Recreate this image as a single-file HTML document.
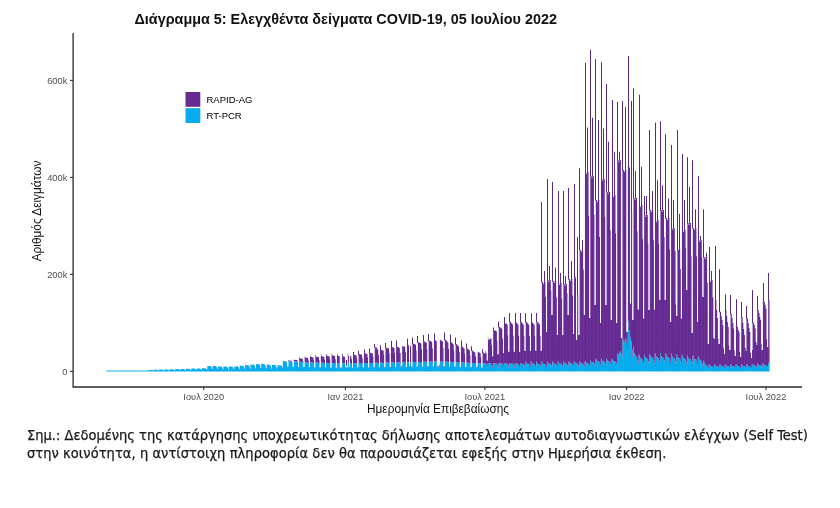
<!DOCTYPE html>
<html lang="el"><head><meta charset="utf-8"><title>Διάγραμμα 5</title>
<style>
html,body{margin:0;padding:0;background:#fff}
body{width:840px;height:508px;position:relative;overflow:hidden;font-family:"Liberation Sans",sans-serif}
svg text{font-family:"Liberation Sans",sans-serif}
.tk{font-size:9.3px;fill:#4d4d4d}
.lg{font-size:9.5px;fill:#000}
.at{font-size:11.85px;fill:#111}
.tt{font-size:14.38px;font-weight:bold;fill:#111}
.note{position:absolute;left:27px;top:425.5px;margin:0;font-family:"DejaVu Sans Condensed","Liberation Sans",sans-serif;font-size:14.5px;line-height:18.5px;color:#1a1a1a;white-space:nowrap;-webkit-text-stroke:0.25px #1a1a1a}
</style></head><body>
<svg width="840" height="508" viewBox="0 0 840 508" style="position:absolute;left:0;top:0"><path d="M106.42 370.6h0.755V371.4h-0.755zM107.19 370.6h0.755V371.4h-0.755zM107.96 370.6h0.755V371.4h-0.755zM108.73 370.6h0.755V371.4h-0.755zM109.50 370.6h0.755V371.4h-0.755zM110.27 370.6h0.755V371.4h-0.755zM111.04 370.6h0.755V371.4h-0.755zM111.81 370.6h0.755V371.4h-0.755zM112.58 370.6h0.755V371.4h-0.755zM113.35 370.6h0.755V371.4h-0.755zM114.12 370.6h0.755V371.4h-0.755zM114.89 370.6h0.755V371.4h-0.755zM115.67 370.6h0.755V371.4h-0.755zM116.44 370.6h0.755V371.4h-0.755zM117.21 370.6h0.755V371.4h-0.755zM117.98 370.6h0.755V371.4h-0.755zM118.75 370.6h0.755V371.4h-0.755zM119.52 370.6h0.755V371.4h-0.755zM120.29 370.6h0.755V371.4h-0.755zM121.06 370.6h0.755V371.4h-0.755zM121.83 370.6h0.755V371.4h-0.755zM122.60 370.6h0.755V371.4h-0.755zM123.37 370.6h0.755V371.4h-0.755zM124.14 370.6h0.755V371.4h-0.755zM124.91 370.6h0.755V371.4h-0.755zM125.68 370.6h0.755V371.4h-0.755zM126.45 370.6h0.755V371.4h-0.755zM127.22 370.6h0.755V371.4h-0.755zM127.99 370.6h0.755V371.4h-0.755zM128.76 370.6h0.755V371.4h-0.755zM129.53 370.6h0.755V371.4h-0.755zM130.30 370.6h0.755V371.4h-0.755zM131.07 370.6h0.755V371.4h-0.755zM131.84 370.6h0.755V371.4h-0.755zM132.61 370.6h0.755V371.4h-0.755zM133.38 370.6h0.755V371.4h-0.755zM134.15 370.6h0.755V371.4h-0.755zM134.92 370.6h0.755V371.4h-0.755zM135.69 370.6h0.755V371.4h-0.755zM136.46 370.6h0.755V371.4h-0.755zM137.23 370.6h0.755V371.4h-0.755zM138.00 370.6h0.755V371.4h-0.755zM138.77 370.6h0.755V371.4h-0.755zM139.54 370.6h0.755V371.4h-0.755zM140.31 370.6h0.755V371.4h-0.755zM141.08 370.6h0.755V371.4h-0.755zM141.85 370.6h0.755V371.4h-0.755zM142.62 370.6h0.755V371.4h-0.755zM143.39 370.6h0.755V371.4h-0.755zM144.16 370.6h0.755V371.4h-0.755zM144.93 370.6h0.755V371.4h-0.755zM145.70 370.6h0.755V371.4h-0.755zM146.47 370.6h0.755V371.4h-0.755zM147.24 370.6h0.755V371.4h-0.755zM148.01 370.3h0.755V371.4h-0.755zM148.78 370.2h0.755V371.4h-0.755zM149.55 369.9h0.755V371.4h-0.755zM150.32 369.9h0.755V371.4h-0.755zM151.09 369.9h0.755V371.4h-0.755zM151.86 370.1h0.755V371.4h-0.755zM152.63 370.6h0.755V371.4h-0.755zM153.40 369.7h0.755V371.4h-0.755zM154.18 369.8h0.755V371.4h-0.755zM154.95 369.8h0.755V371.4h-0.755zM155.72 369.7h0.755V371.4h-0.755zM156.49 369.7h0.755V371.4h-0.755zM157.26 370.0h0.755V371.4h-0.755zM158.03 370.6h0.755V371.4h-0.755zM158.80 369.6h0.755V371.4h-0.755zM159.57 369.6h0.755V371.4h-0.755zM160.34 369.6h0.755V371.4h-0.755zM161.11 369.6h0.755V371.4h-0.755zM161.88 369.6h0.755V371.4h-0.755zM162.65 369.9h0.755V371.4h-0.755zM163.42 370.5h0.755V371.4h-0.755zM164.19 369.4h0.755V371.4h-0.755zM164.96 369.5h0.755V371.4h-0.755zM165.73 369.4h0.755V371.4h-0.755zM166.50 369.4h0.755V371.4h-0.755zM167.27 369.4h0.755V371.4h-0.755zM168.04 369.8h0.755V371.4h-0.755zM168.81 370.5h0.755V371.4h-0.755zM169.58 369.3h0.755V371.4h-0.755zM170.35 369.3h0.755V371.4h-0.755zM171.12 369.3h0.755V371.4h-0.755zM171.89 369.3h0.755V371.4h-0.755zM172.66 369.3h0.755V371.4h-0.755zM173.43 369.7h0.755V371.4h-0.755zM174.20 370.4h0.755V371.4h-0.755zM174.97 369.1h0.755V371.4h-0.755zM175.74 369.2h0.755V371.4h-0.755zM176.51 369.1h0.755V371.4h-0.755zM177.28 369.1h0.755V371.4h-0.755zM178.05 369.1h0.755V371.4h-0.755zM178.82 369.5h0.755V371.4h-0.755zM179.59 370.3h0.755V371.4h-0.755zM180.36 368.9h0.755V371.4h-0.755zM181.13 369.0h0.755V371.4h-0.755zM181.90 369.0h0.755V371.4h-0.755zM182.67 368.9h0.755V371.4h-0.755zM183.44 369.0h0.755V371.4h-0.755zM184.21 369.4h0.755V371.4h-0.755zM184.98 370.2h0.755V371.4h-0.755zM185.75 368.7h0.755V371.4h-0.755zM186.52 368.8h0.755V371.4h-0.755zM187.29 368.8h0.755V371.4h-0.755zM188.06 368.8h0.755V371.4h-0.755zM188.83 368.8h0.755V371.4h-0.755zM189.60 369.3h0.755V371.4h-0.755zM190.37 370.2h0.755V371.4h-0.755zM191.14 368.6h0.755V371.4h-0.755zM191.91 368.6h0.755V371.4h-0.755zM192.69 368.6h0.755V371.4h-0.755zM193.46 368.6h0.755V371.4h-0.755zM194.23 368.6h0.755V371.4h-0.755zM195.00 369.1h0.755V371.4h-0.755zM195.77 370.1h0.755V371.4h-0.755zM196.54 368.4h0.755V371.4h-0.755zM197.31 368.5h0.755V371.4h-0.755zM198.08 368.4h0.755V371.4h-0.755zM198.85 368.4h0.755V371.4h-0.755zM199.62 368.5h0.755V371.4h-0.755zM200.39 369.0h0.755V371.4h-0.755zM201.16 370.0h0.755V371.4h-0.755zM201.93 368.2h0.755V371.4h-0.755zM202.70 368.3h0.755V371.4h-0.755zM203.47 368.3h0.755V371.4h-0.755zM204.24 368.2h0.755V371.4h-0.755zM205.01 368.3h0.755V371.4h-0.755zM205.78 368.7h0.755V371.4h-0.755zM206.55 369.4h0.755V371.4h-0.755zM207.32 366.0h0.755V371.4h-0.755zM208.09 365.9h0.755V371.4h-0.755zM208.86 365.9h0.755V371.4h-0.755zM209.63 365.9h0.755V371.4h-0.755zM210.40 366.0h0.755V371.4h-0.755zM211.17 367.0h0.755V371.4h-0.755zM211.94 368.9h0.755V371.4h-0.755zM212.71 365.7h0.755V371.4h-0.755zM213.48 365.9h0.755V371.4h-0.755zM214.25 365.9h0.755V371.4h-0.755zM215.02 366.0h0.755V371.4h-0.755zM215.79 366.2h0.755V371.4h-0.755zM216.56 367.2h0.755V371.4h-0.755zM217.33 369.0h0.755V371.4h-0.755zM218.10 366.2h0.755V371.4h-0.755zM218.87 366.5h0.755V371.4h-0.755zM219.64 366.6h0.755V371.4h-0.755zM220.41 366.6h0.755V371.4h-0.755zM221.18 366.7h0.755V371.4h-0.755zM221.95 367.6h0.755V371.4h-0.755zM222.72 369.2h0.755V371.4h-0.755zM223.49 366.4h0.755V371.4h-0.755zM224.26 366.6h0.755V371.4h-0.755zM225.03 366.6h0.755V371.4h-0.755zM225.80 366.6h0.755V371.4h-0.755zM226.57 366.7h0.755V371.4h-0.755zM227.34 367.6h0.755V371.4h-0.755zM228.11 369.2h0.755V371.4h-0.755zM228.88 366.4h0.755V371.4h-0.755zM229.65 366.6h0.755V371.4h-0.755zM230.42 366.6h0.755V371.4h-0.755zM231.20 366.6h0.755V371.4h-0.755zM231.97 366.7h0.755V371.4h-0.755zM232.74 367.6h0.755V371.4h-0.755zM233.51 369.2h0.755V371.4h-0.755zM234.28 366.4h0.755V371.4h-0.755zM235.05 366.5h0.755V371.4h-0.755zM235.82 366.4h0.755V371.4h-0.755zM236.59 366.3h0.755V371.4h-0.755zM237.36 366.3h0.755V371.4h-0.755zM238.13 367.2h0.755V371.4h-0.755zM238.90 368.9h0.755V371.4h-0.755zM239.67 365.7h0.755V371.4h-0.755zM240.44 365.8h0.755V371.4h-0.755zM241.21 365.7h0.755V371.4h-0.755zM241.98 365.7h0.755V371.4h-0.755zM242.75 365.7h0.755V371.4h-0.755zM243.52 366.7h0.755V371.4h-0.755zM244.29 368.7h0.755V371.4h-0.755zM245.06 365.1h0.755V371.4h-0.755zM245.83 365.3h0.755V371.4h-0.755zM246.60 365.2h0.755V371.4h-0.755zM247.37 365.1h0.755V371.4h-0.755zM248.14 365.2h0.755V371.4h-0.755zM248.91 366.3h0.755V371.4h-0.755zM249.68 368.4h0.755V371.4h-0.755zM250.45 364.6h0.755V371.4h-0.755zM251.22 364.7h0.755V371.4h-0.755zM251.99 364.7h0.755V371.4h-0.755zM252.76 364.6h0.755V371.4h-0.755zM253.53 364.6h0.755V371.4h-0.755zM254.30 365.8h0.755V371.4h-0.755zM255.07 368.2h0.755V371.4h-0.755zM255.84 364.0h0.755V371.4h-0.755zM256.61 364.3h0.755V371.4h-0.755zM257.38 364.2h0.755V371.4h-0.755zM258.15 364.1h0.755V371.4h-0.755zM258.92 364.2h0.755V371.4h-0.755zM259.69 365.5h0.755V371.4h-0.755zM260.46 368.0h0.755V371.4h-0.755zM261.23 363.6h0.755V371.4h-0.755zM262.00 363.9h0.755V371.4h-0.755zM262.77 364.0h0.755V371.4h-0.755zM263.54 364.1h0.755V371.4h-0.755zM264.31 364.4h0.755V371.4h-0.755zM265.08 365.7h0.755V371.4h-0.755zM265.85 368.2h0.755V371.4h-0.755zM266.62 364.3h0.755V371.4h-0.755zM267.39 364.6h0.755V371.4h-0.755zM268.16 364.7h0.755V371.4h-0.755zM268.93 364.8h0.755V371.4h-0.755zM269.71 365.0h0.755V371.4h-0.755zM270.48 366.2h0.755V371.4h-0.755zM271.25 368.4h0.755V371.4h-0.755zM272.02 364.8h0.755V371.4h-0.755zM272.79 365.0h0.755V371.4h-0.755zM273.56 365.1h0.755V371.4h-0.755zM274.33 365.1h0.755V371.4h-0.755zM275.10 365.3h0.755V371.4h-0.755zM275.87 366.4h0.755V371.4h-0.755zM276.64 368.6h0.755V371.4h-0.755zM277.41 365.0h0.755V371.4h-0.755zM278.18 365.3h0.755V371.4h-0.755zM278.95 365.3h0.755V371.4h-0.755zM279.72 365.4h0.755V371.4h-0.755zM280.49 365.5h0.755V371.4h-0.755zM281.26 365.7h0.755V371.4h-0.755zM282.03 367.6h0.755V371.4h-0.755zM282.80 361.4h0.755V371.4h-0.755zM283.57 361.2h0.755V371.4h-0.755zM284.34 361.2h0.755V371.4h-0.755zM285.11 361.3h0.755V371.4h-0.755zM285.88 361.5h0.755V371.4h-0.755zM286.65 363.3h0.755V371.4h-0.755zM287.42 366.8h0.755V371.4h-0.755zM288.19 361.0h0.755V371.4h-0.755zM288.96 361.4h0.755V371.4h-0.755zM289.73 361.4h0.755V371.4h-0.755zM290.50 361.4h0.755V371.4h-0.755zM291.27 361.6h0.755V371.4h-0.755zM292.04 363.5h0.755V371.4h-0.755zM292.81 366.8h0.755V371.4h-0.755zM293.58 361.1h0.755V371.4h-0.755zM294.35 361.5h0.755V371.4h-0.755zM295.12 361.6h0.755V371.4h-0.755zM295.89 361.6h0.755V371.4h-0.755zM296.66 361.8h0.755V371.4h-0.755zM297.43 363.6h0.755V371.4h-0.755zM298.20 366.9h0.755V371.4h-0.755zM298.97 361.3h0.755V371.4h-0.755zM299.74 361.7h0.755V371.4h-0.755zM300.51 361.8h0.755V371.4h-0.755zM301.28 361.8h0.755V371.4h-0.755zM302.05 362.1h0.755V371.4h-0.755zM302.82 363.8h0.755V371.4h-0.755zM303.59 367.1h0.755V371.4h-0.755zM304.36 361.7h0.755V371.4h-0.755zM305.13 362.1h0.755V371.4h-0.755zM305.90 362.1h0.755V371.4h-0.755zM306.67 362.2h0.755V371.4h-0.755zM307.44 362.4h0.755V371.4h-0.755zM308.22 364.1h0.755V371.4h-0.755zM308.99 367.2h0.755V371.4h-0.755zM309.76 362.0h0.755V371.4h-0.755zM310.53 362.4h0.755V371.4h-0.755zM311.30 362.5h0.755V371.4h-0.755zM312.07 362.5h0.755V371.4h-0.755zM312.84 362.7h0.755V371.4h-0.755zM313.61 364.3h0.755V371.4h-0.755zM314.38 367.3h0.755V371.4h-0.755zM315.15 362.2h0.755V371.4h-0.755zM315.92 362.6h0.755V371.4h-0.755zM316.69 362.6h0.755V371.4h-0.755zM317.46 362.7h0.755V371.4h-0.755zM318.23 362.9h0.755V371.4h-0.755zM319.00 364.5h0.755V371.4h-0.755zM319.77 367.4h0.755V371.4h-0.755zM320.54 362.4h0.755V371.4h-0.755zM321.31 362.8h0.755V371.4h-0.755zM322.08 362.8h0.755V371.4h-0.755zM322.85 362.8h0.755V371.4h-0.755zM323.62 363.0h0.755V371.4h-0.755zM324.39 364.6h0.755V371.4h-0.755zM325.16 367.5h0.755V371.4h-0.755zM325.93 362.6h0.755V371.4h-0.755zM326.70 363.0h0.755V371.4h-0.755zM327.47 363.0h0.755V371.4h-0.755zM328.24 363.0h0.755V371.4h-0.755zM329.01 363.2h0.755V371.4h-0.755zM329.78 364.7h0.755V371.4h-0.755zM330.55 367.6h0.755V371.4h-0.755zM331.32 362.8h0.755V371.4h-0.755zM332.09 363.1h0.755V371.4h-0.755zM332.86 363.2h0.755V371.4h-0.755zM333.63 363.2h0.755V371.4h-0.755zM334.40 363.4h0.755V371.4h-0.755zM335.17 364.9h0.755V371.4h-0.755zM335.94 367.7h0.755V371.4h-0.755zM336.71 363.0h0.755V371.4h-0.755zM337.48 363.3h0.755V371.4h-0.755zM338.25 363.4h0.755V371.4h-0.755zM339.02 363.4h0.755V371.4h-0.755zM339.79 367.5h0.755V371.4h-0.755zM340.56 368.2h0.755V371.4h-0.755zM341.33 367.7h0.755V371.4h-0.755zM342.10 363.0h0.755V371.4h-0.755zM342.87 363.3h0.755V371.4h-0.755zM343.64 363.3h0.755V371.4h-0.755zM344.41 363.3h0.755V371.4h-0.755zM345.18 367.4h0.755V371.4h-0.755zM345.95 364.9h0.755V371.4h-0.755zM346.73 367.7h0.755V371.4h-0.755zM347.50 362.9h0.755V371.4h-0.755zM348.27 363.3h0.755V371.4h-0.755zM349.04 367.3h0.755V371.4h-0.755zM349.81 363.2h0.755V371.4h-0.755zM350.58 363.4h0.755V371.4h-0.755zM351.35 364.8h0.755V371.4h-0.755zM352.12 367.6h0.755V371.4h-0.755zM352.89 362.9h0.755V371.4h-0.755zM353.66 363.2h0.755V371.4h-0.755zM354.43 363.2h0.755V371.4h-0.755zM355.20 363.1h0.755V371.4h-0.755zM355.97 363.3h0.755V371.4h-0.755zM356.74 364.8h0.755V371.4h-0.755zM357.51 367.6h0.755V371.4h-0.755zM358.28 362.8h0.755V371.4h-0.755zM359.05 363.1h0.755V371.4h-0.755zM359.82 363.1h0.755V371.4h-0.755zM360.59 363.1h0.755V371.4h-0.755zM361.36 363.2h0.755V371.4h-0.755zM362.13 364.7h0.755V371.4h-0.755zM362.90 367.5h0.755V371.4h-0.755zM363.67 362.7h0.755V371.4h-0.755zM364.44 363.0h0.755V371.4h-0.755zM365.21 363.0h0.755V371.4h-0.755zM365.98 363.0h0.755V371.4h-0.755zM366.75 363.1h0.755V371.4h-0.755zM367.52 364.6h0.755V371.4h-0.755zM368.29 367.5h0.755V371.4h-0.755zM369.06 362.6h0.755V371.4h-0.755zM369.83 362.9h0.755V371.4h-0.755zM370.60 362.9h0.755V371.4h-0.755zM371.37 362.9h0.755V371.4h-0.755zM372.14 363.0h0.755V371.4h-0.755zM372.91 364.6h0.755V371.4h-0.755zM373.68 367.5h0.755V371.4h-0.755zM374.45 362.5h0.755V371.4h-0.755zM375.22 362.8h0.755V371.4h-0.755zM375.99 362.8h0.755V371.4h-0.755zM376.76 362.8h0.755V371.4h-0.755zM377.53 362.9h0.755V371.4h-0.755zM378.30 364.5h0.755V371.4h-0.755zM379.07 367.4h0.755V371.4h-0.755zM379.84 362.4h0.755V371.4h-0.755zM380.61 362.7h0.755V371.4h-0.755zM381.38 362.7h0.755V371.4h-0.755zM382.15 362.7h0.755V371.4h-0.755zM382.92 362.9h0.755V371.4h-0.755zM383.69 364.4h0.755V371.4h-0.755zM384.46 367.4h0.755V371.4h-0.755zM385.24 362.3h0.755V371.4h-0.755zM386.01 362.6h0.755V371.4h-0.755zM386.78 362.6h0.755V371.4h-0.755zM387.55 362.6h0.755V371.4h-0.755zM388.32 362.8h0.755V371.4h-0.755zM389.09 364.3h0.755V371.4h-0.755zM389.86 367.3h0.755V371.4h-0.755zM390.63 362.2h0.755V371.4h-0.755zM391.40 362.5h0.755V371.4h-0.755zM392.17 362.5h0.755V371.4h-0.755zM392.94 362.5h0.755V371.4h-0.755zM393.71 362.7h0.755V371.4h-0.755zM394.48 364.3h0.755V371.4h-0.755zM395.25 367.3h0.755V371.4h-0.755zM396.02 362.1h0.755V371.4h-0.755zM396.79 362.4h0.755V371.4h-0.755zM397.56 362.4h0.755V371.4h-0.755zM398.33 362.4h0.755V371.4h-0.755zM399.10 362.6h0.755V371.4h-0.755zM399.87 364.2h0.755V371.4h-0.755zM400.64 367.2h0.755V371.4h-0.755zM401.41 366.7h0.755V371.4h-0.755zM402.18 362.3h0.755V371.4h-0.755zM402.95 362.3h0.755V371.4h-0.755zM403.72 362.3h0.755V371.4h-0.755zM404.49 362.5h0.755V371.4h-0.755zM405.26 364.1h0.755V371.4h-0.755zM406.03 367.2h0.755V371.4h-0.755zM406.80 361.9h0.755V371.4h-0.755zM407.57 362.2h0.755V371.4h-0.755zM408.34 362.2h0.755V371.4h-0.755zM409.11 366.8h0.755V371.4h-0.755zM409.88 362.3h0.755V371.4h-0.755zM410.65 364.0h0.755V371.4h-0.755zM411.42 367.1h0.755V371.4h-0.755zM412.19 361.7h0.755V371.4h-0.755zM412.96 362.1h0.755V371.4h-0.755zM413.73 362.0h0.755V371.4h-0.755zM414.50 362.0h0.755V371.4h-0.755zM415.27 362.2h0.755V371.4h-0.755zM416.04 363.9h0.755V371.4h-0.755zM416.81 367.1h0.755V371.4h-0.755zM417.58 361.6h0.755V371.4h-0.755zM418.35 361.9h0.755V371.4h-0.755zM419.12 361.9h0.755V371.4h-0.755zM419.89 361.9h0.755V371.4h-0.755zM420.66 362.1h0.755V371.4h-0.755zM421.43 363.8h0.755V371.4h-0.755zM422.20 367.0h0.755V371.4h-0.755zM422.97 361.4h0.755V371.4h-0.755zM423.75 361.8h0.755V371.4h-0.755zM424.52 361.8h0.755V371.4h-0.755zM425.29 361.8h0.755V371.4h-0.755zM426.06 361.9h0.755V371.4h-0.755zM426.83 363.7h0.755V371.4h-0.755zM427.60 366.9h0.755V371.4h-0.755zM428.37 361.3h0.755V371.4h-0.755zM429.14 361.7h0.755V371.4h-0.755zM429.91 361.6h0.755V371.4h-0.755zM430.68 361.6h0.755V371.4h-0.755zM431.45 361.8h0.755V371.4h-0.755zM432.22 363.5h0.755V371.4h-0.755zM432.99 366.9h0.755V371.4h-0.755zM433.76 361.2h0.755V371.4h-0.755zM434.53 361.5h0.755V371.4h-0.755zM435.30 361.5h0.755V371.4h-0.755zM436.07 361.5h0.755V371.4h-0.755zM436.84 366.5h0.755V371.4h-0.755zM437.61 367.4h0.755V371.4h-0.755zM438.38 366.8h0.755V371.4h-0.755zM439.15 366.2h0.755V371.4h-0.755zM439.92 361.4h0.755V371.4h-0.755zM440.69 361.5h0.755V371.4h-0.755zM441.46 361.5h0.755V371.4h-0.755zM442.23 361.7h0.755V371.4h-0.755zM443.00 363.5h0.755V371.4h-0.755zM443.77 366.9h0.755V371.4h-0.755zM444.54 361.3h0.755V371.4h-0.755zM445.31 361.7h0.755V371.4h-0.755zM446.08 361.7h0.755V371.4h-0.755zM446.85 361.8h0.755V371.4h-0.755zM447.62 362.0h0.755V371.4h-0.755zM448.39 363.8h0.755V371.4h-0.755zM449.16 367.0h0.755V371.4h-0.755zM449.93 361.5h0.755V371.4h-0.755zM450.70 362.0h0.755V371.4h-0.755zM451.47 362.0h0.755V371.4h-0.755zM452.24 362.0h0.755V371.4h-0.755zM453.01 362.3h0.755V371.4h-0.755zM453.78 364.0h0.755V371.4h-0.755zM454.55 367.1h0.755V371.4h-0.755zM455.32 361.8h0.755V371.4h-0.755zM456.09 362.2h0.755V371.4h-0.755zM456.86 362.3h0.755V371.4h-0.755zM457.63 362.3h0.755V371.4h-0.755zM458.40 362.5h0.755V371.4h-0.755zM459.17 364.2h0.755V371.4h-0.755zM459.94 367.3h0.755V371.4h-0.755zM460.71 362.1h0.755V371.4h-0.755zM461.48 362.5h0.755V371.4h-0.755zM462.26 362.5h0.755V371.4h-0.755zM463.03 362.6h0.755V371.4h-0.755zM463.80 362.8h0.755V371.4h-0.755zM464.57 364.4h0.755V371.4h-0.755zM465.34 367.4h0.755V371.4h-0.755zM466.11 362.4h0.755V371.4h-0.755zM466.88 362.8h0.755V371.4h-0.755zM467.65 362.8h0.755V371.4h-0.755zM468.42 362.8h0.755V371.4h-0.755zM469.19 363.0h0.755V371.4h-0.755zM469.96 364.6h0.755V371.4h-0.755zM470.73 367.5h0.755V371.4h-0.755zM471.50 362.7h0.755V371.4h-0.755zM472.27 363.0h0.755V371.4h-0.755zM473.04 363.1h0.755V371.4h-0.755zM473.81 363.1h0.755V371.4h-0.755zM474.58 363.3h0.755V371.4h-0.755zM475.35 364.8h0.755V371.4h-0.755zM476.12 367.6h0.755V371.4h-0.755zM476.89 367.2h0.755V371.4h-0.755zM477.66 363.3h0.755V371.4h-0.755zM478.43 363.3h0.755V371.4h-0.755zM479.20 363.4h0.755V371.4h-0.755zM479.97 363.6h0.755V371.4h-0.755zM480.74 365.0h0.755V371.4h-0.755zM481.51 367.7h0.755V371.4h-0.755zM482.28 363.1h0.755V371.4h-0.755zM483.05 363.4h0.755V371.4h-0.755zM483.82 363.4h0.755V371.4h-0.755zM484.59 363.4h0.755V371.4h-0.755zM485.36 363.6h0.755V371.4h-0.755zM486.13 365.0h0.755V371.4h-0.755zM486.90 367.7h0.755V371.4h-0.755zM487.67 363.1h0.755V371.4h-0.755zM488.44 363.5h0.755V371.4h-0.755zM489.21 363.5h0.755V371.4h-0.755zM489.98 363.5h0.755V371.4h-0.755zM490.75 363.7h0.755V371.4h-0.755zM491.52 365.1h0.755V371.4h-0.755zM492.29 367.8h0.755V371.4h-0.755zM493.06 363.2h0.755V371.4h-0.755zM493.83 363.5h0.755V371.4h-0.755zM494.60 363.5h0.755V371.4h-0.755zM495.37 363.5h0.755V371.4h-0.755zM496.14 363.7h0.755V371.4h-0.755zM496.91 365.1h0.755V371.4h-0.755zM497.68 367.8h0.755V371.4h-0.755zM498.45 363.2h0.755V371.4h-0.755zM499.22 363.6h0.755V371.4h-0.755zM499.99 363.6h0.755V371.4h-0.755zM500.77 363.6h0.755V371.4h-0.755zM501.54 363.7h0.755V371.4h-0.755zM502.31 365.2h0.755V371.4h-0.755zM503.08 367.8h0.755V371.4h-0.755zM503.85 363.3h0.755V371.4h-0.755zM504.62 363.6h0.755V371.4h-0.755zM505.39 363.6h0.755V371.4h-0.755zM506.16 363.6h0.755V371.4h-0.755zM506.93 363.8h0.755V371.4h-0.755zM507.70 365.2h0.755V371.4h-0.755zM508.47 367.8h0.755V371.4h-0.755zM509.24 363.3h0.755V371.4h-0.755zM510.01 363.7h0.755V371.4h-0.755zM510.78 363.7h0.755V371.4h-0.755zM511.55 363.7h0.755V371.4h-0.755zM512.32 363.8h0.755V371.4h-0.755zM513.09 365.2h0.755V371.4h-0.755zM513.86 367.9h0.755V371.4h-0.755zM514.63 363.4h0.755V371.4h-0.755zM515.40 363.7h0.755V371.4h-0.755zM516.17 363.7h0.755V371.4h-0.755zM516.94 363.7h0.755V371.4h-0.755zM517.71 363.9h0.755V371.4h-0.755zM518.48 365.3h0.755V371.4h-0.755zM519.25 367.9h0.755V371.4h-0.755zM520.02 363.4h0.755V371.4h-0.755zM520.79 363.7h0.755V371.4h-0.755zM521.56 363.7h0.755V371.4h-0.755zM522.33 363.8h0.755V371.4h-0.755zM523.10 363.9h0.755V371.4h-0.755zM523.87 365.3h0.755V371.4h-0.755zM524.64 366.8h0.755V371.4h-0.755zM525.41 361.5h0.755V371.4h-0.755zM526.18 363.0h0.755V371.4h-0.755zM526.95 363.8h0.755V371.4h-0.755zM527.72 363.8h0.755V371.4h-0.755zM528.49 364.0h0.755V371.4h-0.755zM529.26 365.3h0.755V371.4h-0.755zM530.03 366.9h0.755V371.4h-0.755zM530.80 361.6h0.755V371.4h-0.755zM531.57 363.1h0.755V371.4h-0.755zM532.34 363.8h0.755V371.4h-0.755zM533.11 363.8h0.755V371.4h-0.755zM533.88 364.0h0.755V371.4h-0.755zM534.65 365.4h0.755V371.4h-0.755zM535.42 366.9h0.755V371.4h-0.755zM536.19 361.6h0.755V371.4h-0.755zM536.96 363.1h0.755V371.4h-0.755zM537.73 363.9h0.755V371.4h-0.755zM538.50 363.9h0.755V371.4h-0.755zM539.28 364.0h0.755V371.4h-0.755zM540.05 365.4h0.755V371.4h-0.755zM540.82 366.9h0.755V371.4h-0.755zM541.59 361.6h0.755V371.4h-0.755zM542.36 363.1h0.755V371.4h-0.755zM543.13 363.9h0.755V371.4h-0.755zM543.90 363.9h0.755V371.4h-0.755zM544.67 364.0h0.755V371.4h-0.755zM545.44 365.4h0.755V371.4h-0.755zM546.21 366.9h0.755V371.4h-0.755zM546.98 361.6h0.755V371.4h-0.755zM547.75 363.1h0.755V371.4h-0.755zM548.52 363.8h0.755V371.4h-0.755zM549.29 363.8h0.755V371.4h-0.755zM550.06 363.9h0.755V371.4h-0.755zM550.83 365.3h0.755V371.4h-0.755zM551.60 366.8h0.755V371.4h-0.755zM552.37 361.5h0.755V371.4h-0.755zM553.14 363.0h0.755V371.4h-0.755zM553.91 363.8h0.755V371.4h-0.755zM554.68 363.7h0.755V371.4h-0.755zM555.45 363.9h0.755V371.4h-0.755zM556.22 365.3h0.755V371.4h-0.755zM556.99 366.8h0.755V371.4h-0.755zM557.76 361.4h0.755V371.4h-0.755zM558.53 362.9h0.755V371.4h-0.755zM559.30 363.7h0.755V371.4h-0.755zM560.07 363.7h0.755V371.4h-0.755zM560.84 363.8h0.755V371.4h-0.755zM561.61 365.2h0.755V371.4h-0.755zM562.38 366.8h0.755V371.4h-0.755zM563.15 361.3h0.755V371.4h-0.755zM563.92 362.9h0.755V371.4h-0.755zM564.69 363.6h0.755V371.4h-0.755zM565.46 363.6h0.755V371.4h-0.755zM566.23 363.8h0.755V371.4h-0.755zM567.00 365.2h0.755V371.4h-0.755zM567.77 366.7h0.755V371.4h-0.755zM568.54 361.3h0.755V371.4h-0.755zM569.31 362.8h0.755V371.4h-0.755zM570.08 363.6h0.755V371.4h-0.755zM570.85 363.6h0.755V371.4h-0.755zM571.62 363.7h0.755V371.4h-0.755zM572.39 365.1h0.755V371.4h-0.755zM573.16 366.7h0.755V371.4h-0.755zM573.93 361.2h0.755V371.4h-0.755zM574.70 362.8h0.755V371.4h-0.755zM575.47 363.5h0.755V371.4h-0.755zM576.24 363.5h0.755V371.4h-0.755zM577.01 363.7h0.755V371.4h-0.755zM577.79 365.1h0.755V371.4h-0.755zM578.56 366.7h0.755V371.4h-0.755zM579.33 361.1h0.755V371.4h-0.755zM580.10 362.7h0.755V371.4h-0.755zM580.87 363.5h0.755V371.4h-0.755zM581.64 363.5h0.755V371.4h-0.755zM582.41 363.6h0.755V371.4h-0.755zM583.18 365.0h0.755V371.4h-0.755zM583.95 366.6h0.755V371.4h-0.755zM584.72 361.1h0.755V371.4h-0.755zM585.49 362.6h0.755V371.4h-0.755zM586.26 363.4h0.755V371.4h-0.755zM587.03 363.4h0.755V371.4h-0.755zM587.80 363.6h0.755V371.4h-0.755zM588.57 365.0h0.755V371.4h-0.755zM589.34 366.5h0.755V371.4h-0.755zM590.11 360.4h0.755V371.4h-0.755zM590.88 361.9h0.755V371.4h-0.755zM591.65 362.5h0.755V371.4h-0.755zM592.42 362.3h0.755V371.4h-0.755zM593.19 362.2h0.755V371.4h-0.755zM593.96 363.7h0.755V371.4h-0.755zM594.73 365.5h0.755V371.4h-0.755zM595.50 358.7h0.755V371.4h-0.755zM596.27 360.6h0.755V371.4h-0.755zM597.04 361.6h0.755V371.4h-0.755zM597.81 361.6h0.755V371.4h-0.755zM598.58 361.8h0.755V371.4h-0.755zM599.35 363.6h0.755V371.4h-0.755zM600.12 365.5h0.755V371.4h-0.755zM600.89 358.7h0.755V371.4h-0.755zM601.66 360.6h0.755V371.4h-0.755zM602.43 361.6h0.755V371.4h-0.755zM603.20 361.6h0.755V371.4h-0.755zM603.97 361.8h0.755V371.4h-0.755zM604.74 363.6h0.755V371.4h-0.755zM605.51 365.5h0.755V371.4h-0.755zM606.28 358.7h0.755V371.4h-0.755zM607.05 360.6h0.755V371.4h-0.755zM607.82 361.6h0.755V371.4h-0.755zM608.59 361.6h0.755V371.4h-0.755zM609.36 361.8h0.755V371.4h-0.755zM610.13 363.6h0.755V371.4h-0.755zM610.90 365.5h0.755V371.4h-0.755zM611.67 358.7h0.755V371.4h-0.755zM612.44 360.6h0.755V371.4h-0.755zM613.21 361.6h0.755V371.4h-0.755zM613.98 361.6h0.755V371.4h-0.755zM614.75 361.6h0.755V371.4h-0.755zM615.52 362.4h0.755V371.4h-0.755zM616.30 363.8h0.755V371.4h-0.755zM617.07 353.4h0.755V371.4h-0.755zM617.84 354.6h0.755V371.4h-0.755zM618.61 354.4h0.755V371.4h-0.755zM619.38 352.7h0.755V371.4h-0.755zM620.15 351.4h0.755V371.4h-0.755zM620.92 353.7h0.755V371.4h-0.755zM621.69 357.1h0.755V371.4h-0.755zM622.46 338.1h0.755V371.4h-0.755zM623.23 341.2h0.755V371.4h-0.755zM624.00 342.0h0.755V371.4h-0.755zM624.77 340.1h0.755V371.4h-0.755zM625.54 338.8h0.755V371.4h-0.755zM626.31 343.3h0.755V371.4h-0.755zM627.08 349.2h0.755V371.4h-0.755zM627.85 320.7h0.755V371.4h-0.755zM628.62 330.0h0.755V371.4h-0.755zM629.39 336.1h0.755V371.4h-0.755zM630.16 338.3h0.755V371.4h-0.755zM630.93 341.2h0.755V371.4h-0.755zM631.70 349.8h0.755V371.4h-0.755zM632.47 357.6h0.755V371.4h-0.755zM633.24 346.7h0.755V371.4h-0.755zM634.01 353.1h0.755V371.4h-0.755zM634.78 355.6h0.755V371.4h-0.755zM635.55 356.4h0.755V371.4h-0.755zM636.32 357.5h0.755V371.4h-0.755zM637.09 360.7h0.755V371.4h-0.755zM637.86 363.7h0.755V371.4h-0.755zM638.63 354.8h0.755V371.4h-0.755zM639.40 357.3h0.755V371.4h-0.755zM640.17 358.6h0.755V371.4h-0.755zM640.94 358.6h0.755V371.4h-0.755zM641.71 358.9h0.755V371.4h-0.755zM642.48 361.2h0.755V371.4h-0.755zM643.25 363.7h0.755V371.4h-0.755zM644.02 354.8h0.755V371.4h-0.755zM644.79 357.3h0.755V371.4h-0.755zM645.56 358.6h0.755V371.4h-0.755zM646.33 358.6h0.755V371.4h-0.755zM647.10 358.9h0.755V371.4h-0.755zM647.87 361.1h0.755V371.4h-0.755zM648.64 363.6h0.755V371.4h-0.755zM649.41 354.2h0.755V371.4h-0.755zM650.18 356.6h0.755V371.4h-0.755zM650.95 357.8h0.755V371.4h-0.755zM651.72 357.6h0.755V371.4h-0.755zM652.49 357.9h0.755V371.4h-0.755zM653.26 360.4h0.755V371.4h-0.755zM654.03 363.1h0.755V371.4h-0.755zM654.81 353.5h0.755V371.4h-0.755zM655.58 356.2h0.755V371.4h-0.755zM656.35 357.6h0.755V371.4h-0.755zM657.12 357.6h0.755V371.4h-0.755zM657.89 357.9h0.755V371.4h-0.755zM658.66 360.4h0.755V371.4h-0.755zM659.43 363.1h0.755V371.4h-0.755zM660.20 353.5h0.755V371.4h-0.755zM660.97 356.2h0.755V371.4h-0.755zM661.74 357.6h0.755V371.4h-0.755zM662.51 357.6h0.755V371.4h-0.755zM663.28 357.9h0.755V371.4h-0.755zM664.05 360.4h0.755V371.4h-0.755zM664.82 363.1h0.755V371.4h-0.755zM665.59 353.5h0.755V371.4h-0.755zM666.36 356.2h0.755V371.4h-0.755zM667.13 357.6h0.755V371.4h-0.755zM667.90 357.6h0.755V371.4h-0.755zM668.67 357.9h0.755V371.4h-0.755zM669.44 360.4h0.755V371.4h-0.755zM670.21 363.1h0.755V371.4h-0.755zM670.98 353.6h0.755V371.4h-0.755zM671.75 356.4h0.755V371.4h-0.755zM672.52 357.8h0.755V371.4h-0.755zM673.29 357.9h0.755V371.4h-0.755zM674.06 358.2h0.755V371.4h-0.755zM674.83 360.7h0.755V371.4h-0.755zM675.60 363.4h0.755V371.4h-0.755zM676.37 354.1h0.755V371.4h-0.755zM677.14 356.9h0.755V371.4h-0.755zM677.91 358.2h0.755V371.4h-0.755zM678.68 358.3h0.755V371.4h-0.755zM679.45 358.6h0.755V371.4h-0.755zM680.22 361.0h0.755V371.4h-0.755zM680.99 363.6h0.755V371.4h-0.755zM681.76 354.7h0.755V371.4h-0.755zM682.53 357.3h0.755V371.4h-0.755zM683.30 358.6h0.755V371.4h-0.755zM684.07 358.7h0.755V371.4h-0.755zM684.84 359.0h0.755V371.4h-0.755zM685.61 361.3h0.755V371.4h-0.755zM686.38 363.9h0.755V371.4h-0.755zM687.15 355.2h0.755V371.4h-0.755zM687.92 357.8h0.755V371.4h-0.755zM688.69 359.1h0.755V371.4h-0.755zM689.46 359.1h0.755V371.4h-0.755zM690.23 359.4h0.755V371.4h-0.755zM691.00 361.7h0.755V371.4h-0.755zM691.77 364.1h0.755V371.4h-0.755zM692.54 355.7h0.755V371.4h-0.755zM693.32 358.2h0.755V371.4h-0.755zM694.09 359.5h0.755V371.4h-0.755zM694.86 359.5h0.755V371.4h-0.755zM695.63 359.8h0.755V371.4h-0.755zM696.40 362.0h0.755V371.4h-0.755zM697.17 364.4h0.755V371.4h-0.755zM697.94 356.3h0.755V371.4h-0.755zM698.71 358.7h0.755V371.4h-0.755zM699.48 359.9h0.755V371.4h-0.755zM700.25 360.4h0.755V371.4h-0.755zM701.02 361.3h0.755V371.4h-0.755zM701.79 363.7h0.755V371.4h-0.755zM702.56 366.0h0.755V371.4h-0.755zM703.33 360.7h0.755V371.4h-0.755zM704.10 363.0h0.755V371.4h-0.755zM704.87 364.4h0.755V371.4h-0.755zM705.64 365.1h0.755V371.4h-0.755zM706.41 365.8h0.755V371.4h-0.755zM707.18 367.0h0.755V371.4h-0.755zM707.95 368.1h0.755V371.4h-0.755zM708.72 364.2h0.755V371.4h-0.755zM709.49 365.3h0.755V371.4h-0.755zM710.26 365.9h0.755V371.4h-0.755zM711.03 365.9h0.755V371.4h-0.755zM711.80 366.0h0.755V371.4h-0.755zM712.57 367.0h0.755V371.4h-0.755zM713.34 368.1h0.755V371.4h-0.755zM714.11 364.2h0.755V371.4h-0.755zM714.88 365.3h0.755V371.4h-0.755zM715.65 365.9h0.755V371.4h-0.755zM716.42 365.9h0.755V371.4h-0.755zM717.19 366.0h0.755V371.4h-0.755zM717.96 367.0h0.755V371.4h-0.755zM718.73 368.1h0.755V371.4h-0.755zM719.50 364.2h0.755V371.4h-0.755zM720.27 365.3h0.755V371.4h-0.755zM721.04 365.9h0.755V371.4h-0.755zM721.81 365.9h0.755V371.4h-0.755zM722.58 366.0h0.755V371.4h-0.755zM723.35 367.0h0.755V371.4h-0.755zM724.12 368.1h0.755V371.4h-0.755zM724.89 364.2h0.755V371.4h-0.755zM725.66 365.3h0.755V371.4h-0.755zM726.43 365.9h0.755V371.4h-0.755zM727.20 365.9h0.755V371.4h-0.755zM727.97 366.0h0.755V371.4h-0.755zM728.74 367.0h0.755V371.4h-0.755zM729.51 368.1h0.755V371.4h-0.755zM730.28 364.2h0.755V371.4h-0.755zM731.05 365.3h0.755V371.4h-0.755zM731.83 365.9h0.755V371.4h-0.755zM732.60 365.9h0.755V371.4h-0.755zM733.37 366.0h0.755V371.4h-0.755zM734.14 367.0h0.755V371.4h-0.755zM734.91 368.1h0.755V371.4h-0.755zM735.68 364.2h0.755V371.4h-0.755zM736.45 365.3h0.755V371.4h-0.755zM737.22 365.9h0.755V371.4h-0.755zM737.99 365.9h0.755V371.4h-0.755zM738.76 366.0h0.755V371.4h-0.755zM739.53 367.0h0.755V371.4h-0.755zM740.30 368.1h0.755V371.4h-0.755zM741.07 364.2h0.755V371.4h-0.755zM741.84 365.3h0.755V371.4h-0.755zM742.61 365.9h0.755V371.4h-0.755zM743.38 365.9h0.755V371.4h-0.755zM744.15 366.0h0.755V371.4h-0.755zM744.92 367.0h0.755V371.4h-0.755zM745.69 368.1h0.755V371.4h-0.755zM746.46 364.2h0.755V371.4h-0.755zM747.23 365.3h0.755V371.4h-0.755zM748.00 365.9h0.755V371.4h-0.755zM748.77 365.9h0.755V371.4h-0.755zM749.54 366.0h0.755V371.4h-0.755zM750.31 367.0h0.755V371.4h-0.755zM751.08 368.0h0.755V371.4h-0.755zM751.85 364.1h0.755V371.4h-0.755zM752.62 365.1h0.755V371.4h-0.755zM753.39 365.7h0.755V371.4h-0.755zM754.16 365.6h0.755V371.4h-0.755zM754.93 365.7h0.755V371.4h-0.755zM755.70 366.7h0.755V371.4h-0.755zM756.47 367.8h0.755V371.4h-0.755zM757.24 363.6h0.755V371.4h-0.755zM758.01 364.8h0.755V371.4h-0.755zM758.78 365.3h0.755V371.4h-0.755zM759.55 365.3h0.755V371.4h-0.755zM760.32 365.3h0.755V371.4h-0.755zM761.09 366.4h0.755V371.4h-0.755zM761.86 367.6h0.755V371.4h-0.755zM762.63 363.2h0.755V371.4h-0.755zM763.40 364.4h0.755V371.4h-0.755zM764.17 365.0h0.755V371.4h-0.755zM764.94 364.9h0.755V371.4h-0.755zM765.71 365.0h0.755V371.4h-0.755zM766.48 366.1h0.755V371.4h-0.755zM767.25 367.4h0.755V371.4h-0.755zM768.02 362.7h0.755V371.4h-0.755zM768.79 364.0h0.755V371.4h-0.755z" fill="#06abee"/><path d="M282.80 361.1h0.755V361.4h-0.755zM283.57 360.9h0.755V361.2h-0.755zM284.34 361.0h0.755V361.2h-0.755zM285.11 361.2h0.755V361.3h-0.755zM285.88 361.3h0.755V361.5h-0.755zM286.65 362.8h0.755V363.3h-0.755zM287.42 366.7h0.755V366.8h-0.755zM288.19 359.9h0.755V361.0h-0.755zM288.96 360.4h0.755V361.4h-0.755zM289.73 360.5h0.755V361.4h-0.755zM290.50 360.7h0.755V361.4h-0.755zM291.27 360.9h0.755V361.6h-0.755zM292.04 362.5h0.755V363.5h-0.755zM292.81 366.8h0.755V366.8h-0.755zM293.58 359.2h0.755V361.1h-0.755zM294.35 359.9h0.755V361.5h-0.755zM295.12 360.0h0.755V361.6h-0.755zM295.89 360.0h0.755V361.6h-0.755zM296.66 360.0h0.755V361.8h-0.755zM297.43 361.8h0.755V363.6h-0.755zM298.20 366.8h0.755V366.9h-0.755zM298.97 357.6h0.755V361.3h-0.755zM299.74 358.4h0.755V361.7h-0.755zM300.51 358.5h0.755V361.8h-0.755zM301.28 358.7h0.755V361.8h-0.755zM302.05 358.8h0.755V362.1h-0.755zM302.82 361.0h0.755V363.8h-0.755zM303.59 366.9h0.755V367.1h-0.755zM304.36 356.6h0.755V361.7h-0.755zM305.13 357.6h0.755V362.1h-0.755zM305.90 357.7h0.755V362.1h-0.755zM306.67 357.9h0.755V362.2h-0.755zM307.44 358.1h0.755V362.4h-0.755zM308.22 360.5h0.755V364.1h-0.755zM308.99 367.1h0.755V367.2h-0.755zM309.76 355.6h0.755V362.0h-0.755zM310.53 356.8h0.755V362.4h-0.755zM311.30 357.1h0.755V362.5h-0.755zM312.07 357.3h0.755V362.5h-0.755zM312.84 357.6h0.755V362.7h-0.755zM313.61 360.2h0.755V364.3h-0.755zM314.38 367.2h0.755V367.3h-0.755zM315.15 355.1h0.755V362.2h-0.755zM315.92 356.5h0.755V362.6h-0.755zM316.69 356.7h0.755V362.6h-0.755zM317.46 357.0h0.755V362.7h-0.755zM318.23 357.2h0.755V362.9h-0.755zM319.00 359.9h0.755V364.5h-0.755zM319.77 367.2h0.755V367.4h-0.755zM320.54 354.6h0.755V362.4h-0.755zM321.31 356.1h0.755V362.8h-0.755zM322.08 356.4h0.755V362.8h-0.755zM322.85 356.6h0.755V362.8h-0.755zM323.62 356.9h0.755V363.0h-0.755zM324.39 359.7h0.755V364.6h-0.755zM325.16 367.3h0.755V367.5h-0.755zM325.93 354.1h0.755V362.6h-0.755zM326.70 355.7h0.755V363.0h-0.755zM327.47 356.0h0.755V363.0h-0.755zM328.24 356.2h0.755V363.0h-0.755zM329.01 356.5h0.755V363.2h-0.755zM329.78 359.4h0.755V364.7h-0.755zM330.55 367.4h0.755V367.6h-0.755zM331.32 353.6h0.755V362.8h-0.755zM332.09 355.3h0.755V363.1h-0.755zM332.86 355.6h0.755V363.2h-0.755zM333.63 355.8h0.755V363.2h-0.755zM334.40 356.1h0.755V363.4h-0.755zM335.17 359.2h0.755V364.9h-0.755zM335.94 367.4h0.755V367.7h-0.755zM336.71 353.4h0.755V363.0h-0.755zM337.48 355.5h0.755V363.3h-0.755zM338.25 355.9h0.755V363.4h-0.755zM339.02 356.3h0.755V363.4h-0.755zM339.79 367.1h0.755V367.5h-0.755zM340.56 367.9h0.755V368.2h-0.755zM341.33 367.5h0.755V367.7h-0.755zM342.10 353.9h0.755V363.0h-0.755zM342.87 356.2h0.755V363.3h-0.755zM343.64 356.6h0.755V363.3h-0.755zM344.41 357.0h0.755V363.3h-0.755zM345.18 367.1h0.755V367.4h-0.755zM346.73 367.4h0.755V367.7h-0.755zM347.50 353.3h0.755V362.9h-0.755zM348.27 355.7h0.755V363.3h-0.755zM349.04 367.0h0.755V367.3h-0.755zM349.81 356.1h0.755V363.2h-0.755zM350.58 356.3h0.755V363.4h-0.755zM351.35 359.2h0.755V364.8h-0.755zM352.12 367.4h0.755V367.6h-0.755zM352.89 354.8h0.755V362.9h-0.755zM353.66 354.8h0.755V363.2h-0.755zM354.43 355.0h0.755V363.2h-0.755zM355.20 355.2h0.755V363.1h-0.755zM355.97 355.4h0.755V363.3h-0.755zM356.74 358.6h0.755V364.8h-0.755zM357.51 367.3h0.755V367.6h-0.755zM358.28 354.0h0.755V362.8h-0.755zM359.05 354.0h0.755V363.1h-0.755zM359.82 354.2h0.755V363.1h-0.755zM360.59 354.4h0.755V363.1h-0.755zM361.36 354.7h0.755V363.2h-0.755zM362.13 358.0h0.755V364.7h-0.755zM362.90 367.3h0.755V367.5h-0.755zM363.67 353.2h0.755V362.7h-0.755zM364.44 353.2h0.755V363.0h-0.755zM365.21 353.5h0.755V363.0h-0.755zM365.98 353.8h0.755V363.0h-0.755zM366.75 354.1h0.755V363.1h-0.755zM367.52 357.6h0.755V364.6h-0.755zM368.29 367.2h0.755V367.5h-0.755zM369.06 352.7h0.755V362.6h-0.755zM369.83 352.7h0.755V362.9h-0.755zM370.60 353.0h0.755V362.9h-0.755zM371.37 353.3h0.755V362.9h-0.755zM372.14 353.6h0.755V363.0h-0.755zM372.91 356.8h0.755V364.6h-0.755zM373.68 367.1h0.755V367.5h-0.755zM374.45 347.2h0.755V362.5h-0.755zM375.22 347.2h0.755V362.8h-0.755zM375.99 347.3h0.755V362.8h-0.755zM376.76 348.5h0.755V362.8h-0.755zM377.53 349.7h0.755V362.9h-0.755zM378.30 354.9h0.755V364.5h-0.755zM379.07 367.0h0.755V367.4h-0.755zM379.84 350.0h0.755V362.4h-0.755zM380.61 350.0h0.755V362.7h-0.755zM381.38 350.1h0.755V362.7h-0.755zM382.15 350.3h0.755V362.7h-0.755zM382.92 350.4h0.755V362.9h-0.755zM383.69 354.7h0.755V364.4h-0.755zM384.46 367.0h0.755V367.4h-0.755zM385.24 347.8h0.755V362.3h-0.755zM386.01 347.8h0.755V362.6h-0.755zM386.78 348.0h0.755V362.6h-0.755zM387.55 348.2h0.755V362.6h-0.755zM388.32 348.4h0.755V362.8h-0.755zM389.09 353.2h0.755V364.3h-0.755zM389.86 366.8h0.755V367.3h-0.755zM390.63 346.4h0.755V362.2h-0.755zM391.40 346.4h0.755V362.5h-0.755zM392.17 346.9h0.755V362.5h-0.755zM392.94 347.4h0.755V362.5h-0.755zM393.71 347.9h0.755V362.7h-0.755zM394.48 353.0h0.755V364.3h-0.755zM395.25 366.8h0.755V367.3h-0.755zM396.02 346.4h0.755V362.1h-0.755zM396.79 346.4h0.755V362.4h-0.755zM397.56 346.9h0.755V362.4h-0.755zM398.33 347.4h0.755V362.4h-0.755zM399.10 347.9h0.755V362.6h-0.755zM399.87 353.0h0.755V364.2h-0.755zM400.64 366.8h0.755V367.2h-0.755zM401.41 365.6h0.755V366.7h-0.755zM402.18 345.9h0.755V362.3h-0.755zM402.95 346.2h0.755V362.3h-0.755zM403.72 346.6h0.755V362.3h-0.755zM404.49 347.0h0.755V362.5h-0.755zM405.26 352.2h0.755V364.1h-0.755zM406.03 366.7h0.755V367.2h-0.755zM406.80 344.8h0.755V361.9h-0.755zM407.57 344.8h0.755V362.2h-0.755zM408.34 345.2h0.755V362.2h-0.755zM409.11 366.0h0.755V366.8h-0.755zM409.88 351.4h0.755V362.3h-0.755zM410.65 351.4h0.755V364.0h-0.755zM411.42 366.6h0.755V367.1h-0.755zM412.19 343.6h0.755V361.7h-0.755zM412.96 343.6h0.755V362.1h-0.755zM413.73 343.9h0.755V362.0h-0.755zM414.50 344.3h0.755V362.0h-0.755zM415.27 344.7h0.755V362.2h-0.755zM416.04 350.4h0.755V363.9h-0.755zM416.81 366.5h0.755V367.1h-0.755zM417.58 342.2h0.755V361.6h-0.755zM418.35 342.2h0.755V361.9h-0.755zM419.12 342.6h0.755V361.9h-0.755zM419.89 343.0h0.755V361.9h-0.755zM420.66 343.5h0.755V362.1h-0.755zM421.43 349.6h0.755V363.8h-0.755zM422.20 366.4h0.755V367.0h-0.755zM422.97 341.3h0.755V361.4h-0.755zM423.75 341.3h0.755V361.8h-0.755zM424.52 341.8h0.755V361.8h-0.755zM425.29 342.3h0.755V361.8h-0.755zM426.06 342.8h0.755V361.9h-0.755zM426.83 349.0h0.755V363.7h-0.755zM427.60 366.3h0.755V366.9h-0.755zM428.37 340.5h0.755V361.3h-0.755zM429.14 340.5h0.755V361.7h-0.755zM429.91 341.0h0.755V361.6h-0.755zM430.68 341.6h0.755V361.6h-0.755zM431.45 342.1h0.755V361.8h-0.755zM432.22 348.6h0.755V363.5h-0.755zM432.99 366.2h0.755V366.9h-0.755zM433.76 340.1h0.755V361.2h-0.755zM434.53 340.1h0.755V361.5h-0.755zM435.30 340.6h0.755V361.5h-0.755zM436.07 341.2h0.755V361.5h-0.755zM436.84 365.5h0.755V366.5h-0.755zM437.61 366.7h0.755V367.4h-0.755zM438.38 366.2h0.755V366.8h-0.755zM439.15 364.8h0.755V366.2h-0.755zM439.92 339.7h0.755V361.4h-0.755zM440.69 340.3h0.755V361.5h-0.755zM441.46 340.9h0.755V361.5h-0.755zM442.23 341.5h0.755V361.7h-0.755zM443.00 348.1h0.755V363.5h-0.755zM443.77 366.2h0.755V366.9h-0.755zM444.54 339.7h0.755V361.3h-0.755zM445.31 339.7h0.755V361.7h-0.755zM446.08 340.6h0.755V361.7h-0.755zM446.85 341.5h0.755V361.8h-0.755zM447.62 342.4h0.755V362.0h-0.755zM448.39 349.1h0.755V363.8h-0.755zM449.16 366.4h0.755V367.0h-0.755zM449.93 341.8h0.755V361.5h-0.755zM450.70 341.8h0.755V362.0h-0.755zM451.47 342.7h0.755V362.0h-0.755zM452.24 343.6h0.755V362.0h-0.755zM453.01 344.5h0.755V362.3h-0.755zM453.78 350.6h0.755V364.0h-0.755zM454.55 366.6h0.755V367.1h-0.755zM455.32 344.0h0.755V361.8h-0.755zM456.09 344.0h0.755V362.2h-0.755zM456.86 344.8h0.755V362.3h-0.755zM457.63 345.7h0.755V362.3h-0.755zM458.40 346.5h0.755V362.5h-0.755zM459.17 352.2h0.755V364.2h-0.755zM459.94 366.8h0.755V367.3h-0.755zM460.71 346.1h0.755V362.1h-0.755zM461.48 346.1h0.755V362.5h-0.755zM462.26 347.0h0.755V362.5h-0.755zM463.03 347.7h0.755V362.6h-0.755zM463.80 348.5h0.755V362.8h-0.755zM464.57 353.7h0.755V364.4h-0.755zM465.34 366.9h0.755V367.4h-0.755zM466.11 348.3h0.755V362.4h-0.755zM466.88 348.3h0.755V362.8h-0.755zM467.65 349.1h0.755V362.8h-0.755zM468.42 349.8h0.755V362.8h-0.755zM469.19 350.6h0.755V363.0h-0.755zM469.96 355.2h0.755V364.6h-0.755zM470.73 367.1h0.755V367.5h-0.755zM471.50 350.5h0.755V362.7h-0.755zM472.27 350.5h0.755V363.0h-0.755zM473.04 351.2h0.755V363.1h-0.755zM473.81 351.9h0.755V363.1h-0.755zM474.58 352.6h0.755V363.3h-0.755zM475.35 356.6h0.755V364.8h-0.755zM476.12 367.3h0.755V367.6h-0.755zM476.89 366.4h0.755V367.2h-0.755zM477.66 351.8h0.755V363.3h-0.755zM478.43 352.3h0.755V363.3h-0.755zM479.20 352.8h0.755V363.4h-0.755zM479.97 353.3h0.755V363.6h-0.755zM480.74 357.2h0.755V365.0h-0.755zM481.51 367.4h0.755V367.7h-0.755zM482.28 352.6h0.755V363.1h-0.755zM483.05 352.6h0.755V363.4h-0.755zM483.82 353.1h0.755V363.4h-0.755zM484.59 353.5h0.755V363.4h-0.755zM485.36 351.3h0.755V363.6h-0.755zM486.13 353.6h0.755V365.0h-0.755zM486.90 360.4h0.755V367.7h-0.755zM487.67 337.7h0.755V363.1h-0.755zM488.44 340.0h0.755V363.5h-0.755zM489.21 339.3h0.755V363.5h-0.755zM489.98 338.7h0.755V363.5h-0.755zM490.75 338.2h0.755V363.7h-0.755zM491.52 344.9h0.755V365.1h-0.755zM492.29 356.3h0.755V367.8h-0.755zM493.06 330.8h0.755V363.2h-0.755zM493.83 330.8h0.755V363.5h-0.755zM494.60 330.3h0.755V363.5h-0.755zM495.37 330.7h0.755V363.5h-0.755zM496.14 331.2h0.755V363.7h-0.755zM496.91 340.4h0.755V365.1h-0.755zM497.68 354.2h0.755V367.8h-0.755zM498.45 327.1h0.755V363.2h-0.755zM499.22 327.1h0.755V363.6h-0.755zM499.99 327.6h0.755V363.6h-0.755zM500.77 328.1h0.755V363.6h-0.755zM501.54 328.7h0.755V363.7h-0.755zM502.31 338.5h0.755V365.2h-0.755zM503.08 353.1h0.755V367.8h-0.755zM503.85 323.4h0.755V363.3h-0.755zM504.62 323.4h0.755V363.6h-0.755zM505.39 323.6h0.755V363.6h-0.755zM506.16 323.8h0.755V363.6h-0.755zM506.93 324.4h0.755V363.8h-0.755zM507.70 335.6h0.755V365.2h-0.755zM508.47 351.8h0.755V367.8h-0.755zM509.24 321.5h0.755V363.3h-0.755zM510.01 321.5h0.755V363.7h-0.755zM510.78 322.5h0.755V363.7h-0.755zM511.55 323.5h0.755V363.7h-0.755zM512.32 324.5h0.755V363.8h-0.755zM513.09 335.7h0.755V365.2h-0.755zM513.86 351.8h0.755V367.9h-0.755zM514.63 321.6h0.755V363.4h-0.755zM515.40 321.6h0.755V363.7h-0.755zM516.17 322.6h0.755V363.7h-0.755zM516.94 323.6h0.755V363.7h-0.755zM517.71 324.6h0.755V363.9h-0.755zM518.48 335.8h0.755V365.3h-0.755zM519.25 351.9h0.755V367.9h-0.755zM520.02 321.6h0.755V363.4h-0.755zM520.79 321.6h0.755V363.7h-0.755zM521.56 322.7h0.755V363.7h-0.755zM522.33 323.7h0.755V363.8h-0.755zM523.10 324.7h0.755V363.9h-0.755zM523.87 335.8h0.755V365.3h-0.755zM524.64 350.8h0.755V366.8h-0.755zM525.41 321.7h0.755V361.5h-0.755zM526.18 321.7h0.755V363.0h-0.755zM526.95 322.7h0.755V363.8h-0.755zM527.72 323.8h0.755V363.8h-0.755zM528.49 324.8h0.755V364.0h-0.755zM529.26 335.9h0.755V365.3h-0.755zM530.03 350.9h0.755V366.9h-0.755zM530.80 321.7h0.755V361.6h-0.755zM531.57 321.7h0.755V363.1h-0.755zM532.34 322.7h0.755V363.8h-0.755zM533.11 323.7h0.755V363.8h-0.755zM533.88 324.6h0.755V364.0h-0.755zM534.65 335.8h0.755V365.4h-0.755zM535.42 350.8h0.755V366.9h-0.755zM536.19 321.5h0.755V361.6h-0.755zM536.96 321.5h0.755V363.1h-0.755zM537.73 322.5h0.755V363.9h-0.755zM538.50 323.5h0.755V363.9h-0.755zM539.28 324.4h0.755V364.0h-0.755zM540.05 335.7h0.755V365.4h-0.755zM540.82 350.7h0.755V366.9h-0.755zM541.59 282.0h0.755V361.6h-0.755zM542.36 282.0h0.755V363.1h-0.755zM543.13 284.0h0.755V363.9h-0.755zM543.90 282.0h0.755V363.9h-0.755zM544.67 282.0h0.755V364.0h-0.755zM545.44 297.0h0.755V365.4h-0.755zM546.21 332.0h0.755V366.9h-0.755zM546.98 280.0h0.755V361.6h-0.755zM547.75 280.0h0.755V363.1h-0.755zM548.52 282.0h0.755V363.8h-0.755zM549.29 280.0h0.755V363.8h-0.755zM550.06 280.0h0.755V363.9h-0.755zM550.83 290.5h0.755V365.3h-0.755zM551.60 315.0h0.755V366.8h-0.755zM552.37 281.0h0.755V361.5h-0.755zM553.14 281.0h0.755V363.0h-0.755zM553.91 283.0h0.755V363.8h-0.755zM554.68 281.0h0.755V363.7h-0.755zM555.45 281.0h0.755V363.9h-0.755zM556.22 297.2h0.755V365.3h-0.755zM556.99 335.0h0.755V366.8h-0.755zM557.76 283.0h0.755V361.4h-0.755zM558.53 283.0h0.755V362.9h-0.755zM559.30 285.0h0.755V363.7h-0.755zM560.07 283.0h0.755V363.7h-0.755zM560.84 283.0h0.755V363.8h-0.755zM561.61 298.6h0.755V365.2h-0.755zM562.38 335.0h0.755V366.8h-0.755zM563.15 284.0h0.755V361.3h-0.755zM563.92 284.0h0.755V362.9h-0.755zM564.69 286.0h0.755V363.6h-0.755zM565.46 284.0h0.755V363.6h-0.755zM566.23 284.0h0.755V363.8h-0.755zM567.00 293.3h0.755V365.2h-0.755zM567.77 315.0h0.755V366.7h-0.755zM568.54 279.0h0.755V361.3h-0.755zM569.31 279.0h0.755V362.8h-0.755zM570.08 281.0h0.755V363.6h-0.755zM570.85 279.0h0.755V363.6h-0.755zM571.62 279.0h0.755V363.7h-0.755zM572.39 295.5h0.755V365.1h-0.755zM573.16 334.0h0.755V366.7h-0.755zM573.93 276.0h0.755V361.2h-0.755zM574.70 276.0h0.755V362.8h-0.755zM575.47 278.0h0.755V363.5h-0.755zM576.24 340.0h0.755V363.5h-0.755zM577.01 293.7h0.755V363.7h-0.755zM577.79 293.7h0.755V365.1h-0.755zM578.56 335.0h0.755V366.7h-0.755zM579.33 250.0h0.755V361.1h-0.755zM580.10 250.0h0.755V362.7h-0.755zM580.87 252.0h0.755V363.5h-0.755zM581.64 250.0h0.755V363.5h-0.755zM582.41 250.0h0.755V363.6h-0.755zM583.18 269.5h0.755V365.0h-0.755zM583.95 315.0h0.755V366.6h-0.755zM584.72 172.0h0.755V361.1h-0.755zM585.49 172.0h0.755V362.6h-0.755zM586.26 174.0h0.755V363.4h-0.755zM587.03 172.0h0.755V363.4h-0.755zM587.80 172.0h0.755V363.6h-0.755zM588.57 215.8h0.755V365.0h-0.755zM589.34 318.0h0.755V366.5h-0.755zM590.11 176.0h0.755V360.4h-0.755zM590.88 176.0h0.755V361.9h-0.755zM591.65 178.0h0.755V362.5h-0.755zM592.42 176.0h0.755V362.3h-0.755zM593.19 176.0h0.755V362.2h-0.755zM593.96 214.7h0.755V363.7h-0.755zM594.73 305.0h0.755V365.5h-0.755zM595.50 200.0h0.755V358.7h-0.755zM596.27 200.0h0.755V360.6h-0.755zM597.04 202.0h0.755V361.6h-0.755zM597.81 200.0h0.755V361.6h-0.755zM598.58 200.0h0.755V361.8h-0.755zM599.35 236.9h0.755V363.6h-0.755zM600.12 323.0h0.755V365.5h-0.755zM600.89 179.0h0.755V358.7h-0.755zM601.66 179.0h0.755V360.6h-0.755zM602.43 181.0h0.755V361.6h-0.755zM603.20 179.0h0.755V361.6h-0.755zM603.97 179.0h0.755V361.8h-0.755zM604.74 216.8h0.755V363.6h-0.755zM605.51 305.0h0.755V365.5h-0.755zM606.28 192.0h0.755V358.7h-0.755zM607.05 192.0h0.755V360.6h-0.755zM607.82 194.0h0.755V361.6h-0.755zM608.59 192.0h0.755V361.6h-0.755zM609.36 192.0h0.755V361.8h-0.755zM610.13 230.4h0.755V363.6h-0.755zM610.90 320.0h0.755V365.5h-0.755zM611.67 195.0h0.755V358.7h-0.755zM612.44 195.0h0.755V360.6h-0.755zM613.21 197.0h0.755V361.6h-0.755zM613.98 195.0h0.755V361.6h-0.755zM614.75 195.0h0.755V361.6h-0.755zM615.52 233.4h0.755V362.4h-0.755zM616.30 323.0h0.755V363.8h-0.755zM617.07 160.0h0.755V353.4h-0.755zM617.84 160.0h0.755V354.6h-0.755zM618.61 162.0h0.755V354.4h-0.755zM619.38 160.0h0.755V352.7h-0.755zM620.15 160.0h0.755V351.4h-0.755zM620.92 338.0h0.755V353.7h-0.755zM621.69 338.0h0.755V357.1h-0.755zM622.46 170.0h0.755V338.1h-0.755zM623.23 170.0h0.755V341.2h-0.755zM624.00 172.0h0.755V342.0h-0.755zM624.77 170.0h0.755V340.1h-0.755zM625.54 170.0h0.755V338.8h-0.755zM626.31 332.0h0.755V343.3h-0.755zM627.08 332.0h0.755V349.2h-0.755zM627.85 166.0h0.755V320.7h-0.755zM628.62 166.0h0.755V330.0h-0.755zM629.39 168.0h0.755V336.1h-0.755zM630.16 303.6h0.755V338.3h-0.755zM630.93 212.2h0.755V341.2h-0.755zM631.70 212.2h0.755V349.8h-0.755zM632.47 320.0h0.755V357.6h-0.755zM633.24 198.0h0.755V346.7h-0.755zM634.01 198.0h0.755V353.1h-0.755zM634.78 200.0h0.755V355.6h-0.755zM635.55 198.0h0.755V356.4h-0.755zM636.32 198.0h0.755V357.5h-0.755zM637.09 231.4h0.755V360.7h-0.755zM637.86 309.5h0.755V363.7h-0.755zM638.63 205.0h0.755V354.8h-0.755zM639.40 205.0h0.755V357.3h-0.755zM640.17 207.0h0.755V358.6h-0.755zM640.94 205.0h0.755V358.6h-0.755zM641.71 205.0h0.755V358.9h-0.755zM642.48 239.0h0.755V361.2h-0.755zM643.25 318.4h0.755V363.7h-0.755zM644.02 215.0h0.755V354.8h-0.755zM644.79 215.0h0.755V357.3h-0.755zM645.56 217.0h0.755V358.6h-0.755zM646.33 215.0h0.755V358.6h-0.755zM647.10 215.0h0.755V358.9h-0.755zM647.87 243.5h0.755V361.1h-0.755zM648.64 310.0h0.755V363.6h-0.755zM649.41 210.0h0.755V354.2h-0.755zM650.18 210.0h0.755V356.6h-0.755zM650.95 212.0h0.755V357.8h-0.755zM651.72 210.0h0.755V357.6h-0.755zM652.49 210.0h0.755V357.9h-0.755zM653.26 239.8h0.755V360.4h-0.755zM654.03 309.5h0.755V363.1h-0.755zM654.81 220.0h0.755V353.5h-0.755zM655.58 220.0h0.755V356.2h-0.755zM656.35 222.0h0.755V357.6h-0.755zM657.12 220.0h0.755V357.6h-0.755zM657.89 220.0h0.755V357.9h-0.755zM658.66 244.0h0.755V360.4h-0.755zM659.43 300.0h0.755V363.1h-0.755zM660.20 210.0h0.755V353.5h-0.755zM660.97 210.0h0.755V356.2h-0.755zM661.74 212.0h0.755V357.6h-0.755zM662.51 210.0h0.755V357.6h-0.755zM663.28 210.0h0.755V357.9h-0.755zM664.05 237.0h0.755V360.4h-0.755zM664.82 300.0h0.755V363.1h-0.755zM665.59 218.0h0.755V353.5h-0.755zM666.36 218.0h0.755V356.2h-0.755zM667.13 220.0h0.755V357.6h-0.755zM667.90 218.0h0.755V357.6h-0.755zM668.67 218.0h0.755V357.9h-0.755zM669.44 249.2h0.755V360.4h-0.755zM670.21 322.0h0.755V363.1h-0.755zM670.98 228.0h0.755V353.6h-0.755zM671.75 228.0h0.755V356.4h-0.755zM672.52 230.0h0.755V357.8h-0.755zM673.29 228.0h0.755V357.9h-0.755zM674.06 228.0h0.755V358.2h-0.755zM674.83 251.1h0.755V360.7h-0.755zM675.60 305.0h0.755V363.4h-0.755zM676.37 316.0h0.755V354.1h-0.755zM677.14 250.0h0.755V356.9h-0.755zM677.91 250.0h0.755V358.2h-0.755zM678.68 248.0h0.755V358.3h-0.755zM679.45 248.0h0.755V358.6h-0.755zM680.22 269.1h0.755V361.0h-0.755zM680.99 318.5h0.755V363.6h-0.755zM681.76 230.0h0.755V354.7h-0.755zM682.53 230.0h0.755V357.3h-0.755zM683.30 232.0h0.755V358.6h-0.755zM684.07 230.0h0.755V358.7h-0.755zM684.84 230.0h0.755V359.0h-0.755zM685.61 248.0h0.755V361.3h-0.755zM686.38 290.0h0.755V363.9h-0.755zM687.15 223.0h0.755V355.2h-0.755zM687.92 223.0h0.755V357.8h-0.755zM688.69 225.0h0.755V359.1h-0.755zM689.46 223.0h0.755V359.1h-0.755zM690.23 223.0h0.755V359.4h-0.755zM691.00 256.0h0.755V361.7h-0.755zM691.77 333.0h0.755V364.1h-0.755zM692.54 228.0h0.755V355.7h-0.755zM693.32 228.0h0.755V358.2h-0.755zM694.09 230.0h0.755V359.5h-0.755zM694.86 228.0h0.755V359.5h-0.755zM695.63 228.0h0.755V359.8h-0.755zM696.40 256.2h0.755V362.0h-0.755zM697.17 322.0h0.755V364.4h-0.755zM697.94 240.0h0.755V356.3h-0.755zM698.71 240.0h0.755V358.7h-0.755zM699.48 242.0h0.755V359.9h-0.755zM700.25 240.0h0.755V360.4h-0.755zM701.02 240.0h0.755V361.3h-0.755zM701.79 257.1h0.755V363.7h-0.755zM702.56 297.0h0.755V366.0h-0.755zM703.33 257.0h0.755V360.7h-0.755zM704.10 257.0h0.755V363.0h-0.755zM704.87 259.0h0.755V364.4h-0.755zM705.64 257.0h0.755V365.1h-0.755zM706.41 257.0h0.755V365.8h-0.755zM707.18 283.1h0.755V367.0h-0.755zM707.95 344.0h0.755V368.1h-0.755zM708.72 280.0h0.755V364.2h-0.755zM709.49 280.0h0.755V365.3h-0.755zM710.26 282.0h0.755V365.9h-0.755zM711.03 280.0h0.755V365.9h-0.755zM711.80 280.0h0.755V366.0h-0.755zM712.57 297.4h0.755V367.0h-0.755zM713.34 338.0h0.755V368.1h-0.755zM714.11 339.0h0.755V364.2h-0.755zM714.88 300.0h0.755V365.3h-0.755zM715.65 300.0h0.755V365.9h-0.755zM716.42 310.0h0.755V365.9h-0.755zM717.19 318.0h0.755V366.0h-0.755zM717.96 338.8h0.755V367.0h-0.755zM718.73 344.0h0.755V368.1h-0.755zM719.50 311.8h0.755V364.2h-0.755zM720.27 311.8h0.755V365.3h-0.755zM721.04 316.0h0.755V365.9h-0.755zM721.81 320.0h0.755V365.9h-0.755zM722.58 325.0h0.755V366.0h-0.755zM723.35 348.2h0.755V367.0h-0.755zM724.12 354.0h0.755V368.1h-0.755zM724.89 310.0h0.755V364.2h-0.755zM725.66 310.0h0.755V365.3h-0.755zM726.43 316.0h0.755V365.9h-0.755zM727.20 322.0h0.755V365.9h-0.755zM727.97 327.0h0.755V366.0h-0.755zM728.74 345.4h0.755V367.0h-0.755zM729.51 350.0h0.755V368.1h-0.755zM730.28 313.5h0.755V364.2h-0.755zM731.05 313.5h0.755V365.3h-0.755zM731.83 318.0h0.755V365.9h-0.755zM732.60 323.0h0.755V365.9h-0.755zM733.37 328.5h0.755V366.0h-0.755zM734.14 350.5h0.755V367.0h-0.755zM734.91 356.0h0.755V368.1h-0.755zM735.68 325.0h0.755V364.2h-0.755zM736.45 325.0h0.755V365.3h-0.755zM737.22 327.0h0.755V365.9h-0.755zM737.99 330.0h0.755V365.9h-0.755zM738.76 332.0h0.755V366.0h-0.755zM739.53 352.0h0.755V367.0h-0.755zM740.30 357.0h0.755V368.1h-0.755zM741.07 317.0h0.755V364.2h-0.755zM741.84 317.0h0.755V365.3h-0.755zM742.61 323.0h0.755V365.9h-0.755zM743.38 329.0h0.755V365.9h-0.755zM744.15 335.0h0.755V366.0h-0.755zM744.92 347.8h0.755V367.0h-0.755zM745.69 351.0h0.755V368.1h-0.755zM746.46 318.5h0.755V364.2h-0.755zM747.23 318.5h0.755V365.3h-0.755zM748.00 323.0h0.755V365.9h-0.755zM748.77 328.0h0.755V365.9h-0.755zM749.54 332.0h0.755V366.0h-0.755zM750.31 352.8h0.755V367.0h-0.755zM751.08 358.0h0.755V368.0h-0.755zM751.85 350.0h0.755V364.1h-0.755zM752.62 322.7h0.755V365.1h-0.755zM753.39 322.7h0.755V365.7h-0.755zM754.16 325.0h0.755V365.6h-0.755zM754.93 328.5h0.755V365.7h-0.755zM755.70 341.7h0.755V366.7h-0.755zM756.47 345.0h0.755V367.8h-0.755zM757.24 310.0h0.755V363.6h-0.755zM758.01 310.0h0.755V364.8h-0.755zM758.78 313.0h0.755V365.3h-0.755zM759.55 317.0h0.755V365.3h-0.755zM760.32 320.0h0.755V365.3h-0.755zM761.09 344.0h0.755V366.4h-0.755zM761.86 350.0h0.755V367.6h-0.755zM762.63 298.4h0.755V363.2h-0.755zM763.40 298.4h0.755V364.4h-0.755zM764.17 302.0h0.755V365.0h-0.755zM764.94 305.0h0.755V364.9h-0.755zM765.71 308.5h0.755V365.0h-0.755zM766.48 339.3h0.755V366.1h-0.755zM767.25 347.0h0.755V367.4h-0.755zM768.02 300.0h0.755V362.7h-0.755zM768.79 300.0h0.755V364.0h-0.755z" fill="#652b93"/><path d="M287.30 359.4h1.000V366.7h-1.000zM292.69 358.7h1.000V366.8h-1.000zM298.08 357.1h1.000V366.8h-1.000zM303.47 356.1h1.000V366.9h-1.000zM308.86 355.1h1.000V367.1h-1.000zM314.25 354.6h1.000V367.2h-1.000zM319.65 354.1h1.000V367.2h-1.000zM325.04 353.6h1.000V367.3h-1.000zM330.43 353.1h1.000V367.4h-1.000zM335.82 352.9h1.000V367.4h-1.000zM345.06 356.5h1.000V367.1h-1.000zM346.60 352.8h1.000V367.4h-1.000zM348.91 355.2h1.000V367.0h-1.000zM351.99 351.4h1.000V367.4h-1.000zM357.39 350.2h1.000V367.3h-1.000zM362.78 349.0h1.000V367.3h-1.000zM368.17 348.0h1.000V367.2h-1.000zM373.56 343.6h1.000V367.1h-1.000zM378.95 344.8h1.000V367.0h-1.000zM384.34 342.4h1.000V367.0h-1.000zM389.73 340.3h1.000V366.8h-1.000zM395.12 340.1h1.000V366.8h-1.000zM405.91 338.3h1.000V366.7h-1.000zM408.99 344.7h1.000V366.0h-1.000zM411.30 337.0h1.000V366.6h-1.000zM416.69 335.6h1.000V366.5h-1.000zM422.08 334.4h1.000V366.4h-1.000zM427.47 333.5h1.000V366.3h-1.000zM432.86 332.9h1.000V366.2h-1.000zM443.65 332.0h1.000V366.2h-1.000zM449.04 334.1h1.000V366.4h-1.000zM454.43 337.0h1.000V366.6h-1.000zM459.82 340.0h1.000V366.8h-1.000zM465.21 343.0h1.000V366.9h-1.000zM470.60 345.8h1.000V367.1h-1.000zM481.39 348.8h1.000V367.4h-1.000zM486.78 337.2h1.000V360.4h-1.000zM492.17 326.9h1.000V356.3h-1.000zM497.56 321.2h1.000V354.2h-1.000zM502.95 316.6h1.000V353.1h-1.000zM508.34 312.5h1.000V351.8h-1.000zM513.74 312.5h1.000V351.8h-1.000zM519.13 312.6h1.000V351.9h-1.000zM524.52 312.7h1.000V350.8h-1.000zM529.91 312.8h1.000V350.9h-1.000zM535.30 312.6h1.000V350.8h-1.000zM540.69 201.5h1.000V350.7h-1.000zM546.08 178.4h1.000V332.0h-1.000zM551.48 181.4h1.000V315.0h-1.000zM556.87 190.5h1.000V335.0h-1.000zM562.26 190.5h1.000V335.0h-1.000zM567.65 187.5h1.000V315.0h-1.000zM573.04 183.5h1.000V334.0h-1.000zM576.12 236.5h1.000V340.0h-1.000zM578.43 167.7h1.000V335.0h-1.000zM583.82 62.6h1.000V315.0h-1.000zM589.22 49.2h1.000V318.0h-1.000zM594.61 58.7h1.000V305.0h-1.000zM600.00 61.7h1.000V323.0h-1.000zM605.39 83.5h1.000V305.0h-1.000zM610.78 99.4h1.000V320.0h-1.000zM616.17 101.4h1.000V323.0h-1.000zM630.04 100.5h1.000V303.6h-1.000zM632.35 87.7h1.000V320.0h-1.000zM637.74 94.3h1.000V309.5h-1.000zM643.13 195.5h1.000V318.4h-1.000zM648.52 129.5h1.000V310.0h-1.000zM653.91 122.3h1.000V309.5h-1.000zM659.30 120.7h1.000V300.0h-1.000zM664.69 133.7h1.000V300.0h-1.000zM670.09 144.6h1.000V322.0h-1.000zM676.25 129.6h1.000V316.0h-1.000zM677.79 129.6h1.000V250.0h-1.000zM680.87 153.8h1.000V318.5h-1.000zM686.26 156.8h1.000V290.0h-1.000zM691.65 159.7h1.000V333.0h-1.000zM697.04 175.5h1.000V322.0h-1.000zM702.43 208.7h1.000V297.0h-1.000zM707.83 246.4h1.000V344.0h-1.000zM718.61 268.8h1.000V344.0h-1.000zM724.00 293.8h1.000V354.0h-1.000zM729.39 294.6h1.000V350.0h-1.000zM734.78 298.8h1.000V356.0h-1.000zM740.17 301.6h1.000V357.0h-1.000zM750.96 349.5h1.000V358.0h-1.000zM761.74 282.5h1.000V350.0h-1.000zM767.13 272.5h1.000V347.0h-1.000z" fill="#fff"/><path d="M346.00 359.9h1.000V365.4h-1.000zM353.00 351.9h1.000V355.3h-1.000zM358.00 350.7h1.000V354.5h-1.000zM364.00 349.5h1.000V353.7h-1.000zM369.00 348.5h1.000V353.2h-1.000zM374.00 344.1h1.000V347.7h-1.000zM380.00 345.3h1.000V350.5h-1.000zM385.00 342.9h1.000V348.3h-1.000zM391.00 340.8h1.000V346.9h-1.000zM396.00 340.6h1.000V346.9h-1.000zM407.00 338.8h1.000V345.3h-1.000zM410.00 346.0h1.000V351.9h-1.000zM412.00 337.5h1.000V344.1h-1.000zM417.00 336.1h1.000V342.7h-1.000zM423.00 334.9h1.000V341.8h-1.000zM428.00 334.0h1.000V341.0h-1.000zM434.00 333.4h1.000V340.6h-1.000zM444.00 332.5h1.000V340.2h-1.000zM450.00 334.6h1.000V342.3h-1.000zM455.00 337.5h1.000V344.5h-1.000zM461.00 340.5h1.000V346.6h-1.000zM466.00 343.5h1.000V348.8h-1.000zM471.00 346.3h1.000V351.0h-1.000zM482.00 349.3h1.000V353.1h-1.000zM493.00 327.4h1.000V331.3h-1.000zM498.00 321.7h1.000V327.6h-1.000zM504.00 317.1h1.000V323.9h-1.000zM509.00 313.0h1.000V322.0h-1.000zM515.00 313.0h1.000V322.1h-1.000zM520.00 313.1h1.000V322.1h-1.000zM525.00 313.2h1.000V322.2h-1.000zM531.00 313.3h1.000V322.2h-1.000zM536.00 313.1h1.000V322.0h-1.000zM541.00 202.0h1.000V282.5h-1.000zM544.00 271.0h1.000V282.5h-1.000zM547.00 178.9h1.000V280.5h-1.000zM549.00 266.0h1.000V280.5h-1.000zM552.00 181.9h1.000V281.5h-1.000zM555.00 267.5h1.000V281.5h-1.000zM558.00 191.0h1.000V283.5h-1.000zM560.00 273.0h1.000V283.5h-1.000zM563.00 191.0h1.000V284.5h-1.000zM565.00 276.0h1.000V284.5h-1.000zM568.00 188.0h1.000V279.5h-1.000zM571.00 261.0h1.000V279.5h-1.000zM574.00 184.0h1.000V276.5h-1.000zM577.00 237.0h1.000V294.2h-1.000zM579.00 168.2h1.000V250.5h-1.000zM582.00 240.0h1.000V250.5h-1.000zM585.00 63.1h1.000V172.5h-1.000zM587.00 127.5h1.000V172.5h-1.000zM590.00 49.7h1.000V176.5h-1.000zM592.00 117.8h1.000V176.5h-1.000zM595.00 59.2h1.000V200.5h-1.000zM598.00 120.0h1.000V200.5h-1.000zM601.00 62.2h1.000V179.5h-1.000zM603.00 128.4h1.000V179.5h-1.000zM606.00 84.0h1.000V192.5h-1.000zM608.00 141.7h1.000V192.5h-1.000zM612.00 99.9h1.000V195.5h-1.000zM614.00 151.8h1.000V195.5h-1.000zM617.00 101.9h1.000V160.5h-1.000zM619.00 151.8h1.000V160.5h-1.000zM622.00 101.0h1.000V170.5h-1.000zM625.00 106.9h1.000V170.5h-1.000zM628.00 55.9h1.000V166.5h-1.000zM631.00 101.0h1.000V212.7h-1.000zM633.00 88.2h1.000V198.5h-1.000zM635.00 171.0h1.000V198.5h-1.000zM639.00 94.8h1.000V205.5h-1.000zM641.00 166.8h1.000V205.5h-1.000zM644.00 196.0h1.000V215.5h-1.000zM646.00 196.0h1.000V215.5h-1.000zM649.00 130.0h1.000V210.5h-1.000zM652.00 191.0h1.000V210.5h-1.000zM655.00 122.8h1.000V220.5h-1.000zM657.00 180.2h1.000V220.5h-1.000zM660.00 121.2h1.000V210.5h-1.000zM662.00 185.3h1.000V210.5h-1.000zM665.00 134.2h1.000V218.5h-1.000zM668.00 198.5h1.000V218.5h-1.000zM671.00 145.1h1.000V228.5h-1.000zM673.00 200.0h1.000V228.5h-1.000zM677.00 130.1h1.000V250.5h-1.000zM679.00 214.0h1.000V248.5h-1.000zM682.00 154.3h1.000V230.5h-1.000zM684.00 200.0h1.000V230.5h-1.000zM687.00 157.3h1.000V223.5h-1.000zM689.00 187.0h1.000V223.5h-1.000zM692.00 160.2h1.000V228.5h-1.000zM695.00 209.2h1.000V228.5h-1.000zM698.00 176.0h1.000V240.5h-1.000zM700.00 236.0h1.000V240.5h-1.000zM703.00 209.2h1.000V257.5h-1.000zM706.00 252.7h1.000V257.5h-1.000zM709.00 246.9h1.000V280.5h-1.000zM711.00 271.0h1.000V280.5h-1.000zM715.00 246.0h1.000V300.5h-1.000zM719.00 269.3h1.000V312.3h-1.000zM725.00 294.3h1.000V310.5h-1.000zM730.00 295.1h1.000V314.0h-1.000zM736.00 299.3h1.000V325.5h-1.000zM741.00 302.1h1.000V317.5h-1.000zM746.00 306.0h1.000V319.0h-1.000zM752.00 290.0h1.000V323.2h-1.000zM757.00 296.0h1.000V310.5h-1.000zM763.00 283.0h1.000V298.9h-1.000zM768.00 273.0h1.000V300.5h-1.000z" fill="#582a80"/><path d="M73.1 33V387H802" fill="none" stroke="#2a2a2a" stroke-width="1.3"/><path d="M203.75 387v3" stroke="#333" stroke-width="1.1"/><text x="203.75" y="399.6" text-anchor="middle" class="tk">Ιουλ 2020</text><path d="M345.45 387v3" stroke="#333" stroke-width="1.1"/><text x="345.45" y="399.6" text-anchor="middle" class="tk">Ιαν 2021</text><path d="M484.85 387v3" stroke="#333" stroke-width="1.1"/><text x="484.85" y="399.6" text-anchor="middle" class="tk">Ιουλ 2021</text><path d="M626.6 387v3" stroke="#333" stroke-width="1.1"/><text x="626.6" y="399.6" text-anchor="middle" class="tk">Ιαν 2022</text><path d="M766.0 387v3" stroke="#333" stroke-width="1.1"/><text x="766.0" y="399.6" text-anchor="middle" class="tk">Ιουλ 2022</text><path d="M70 371.4h3" stroke="#333" stroke-width="1.1"/><text x="67.3" y="374.7" text-anchor="end" class="tk">0</text><path d="M70 274.4h3" stroke="#333" stroke-width="1.1"/><text x="67.3" y="277.7" text-anchor="end" class="tk">200k</text><path d="M70 177.4h3" stroke="#333" stroke-width="1.1"/><text x="67.3" y="180.70000000000002" text-anchor="end" class="tk">400k</text><path d="M70 80.4h3" stroke="#333" stroke-width="1.1"/><text x="67.3" y="83.7" text-anchor="end" class="tk">600k</text><rect x="185.5" y="92" width="14.8" height="14.8" fill="#652b93"/><rect x="185.5" y="108.2" width="14.8" height="14.8" fill="#06abee"/><text x="206.5" y="103" class="lg">RAPID-AG</text><text x="206.5" y="119.2" class="lg">RT-PCR</text><text x="438" y="412.6" text-anchor="middle" class="at">Ημερομηνία Επιβεβαίωσης</text><text transform="translate(40.6 211) rotate(-90)" text-anchor="middle" class="at">Αριθμός Δειγμάτων</text><text x="134.5" y="24.1" class="tt">Διάγραμμα 5: Ελεγχθέντα δείγματα COVID-19, 05 Ιουλίου 2022</text></svg>
<p class="note">Σημ.: Δεδομένης της κατάργησης υποχρεωτικότητας δήλωσης αποτελεσμάτων αυτοδιαγνωστικών ελέγχων (Self Test)<br><span style="letter-spacing:0.055px">στην κοινότητα, η αντίστοιχη πληροφορία δεν θα παρουσιάζεται εφεξής στην Ημερήσια έκθεση.</span></p>
</body></html>
